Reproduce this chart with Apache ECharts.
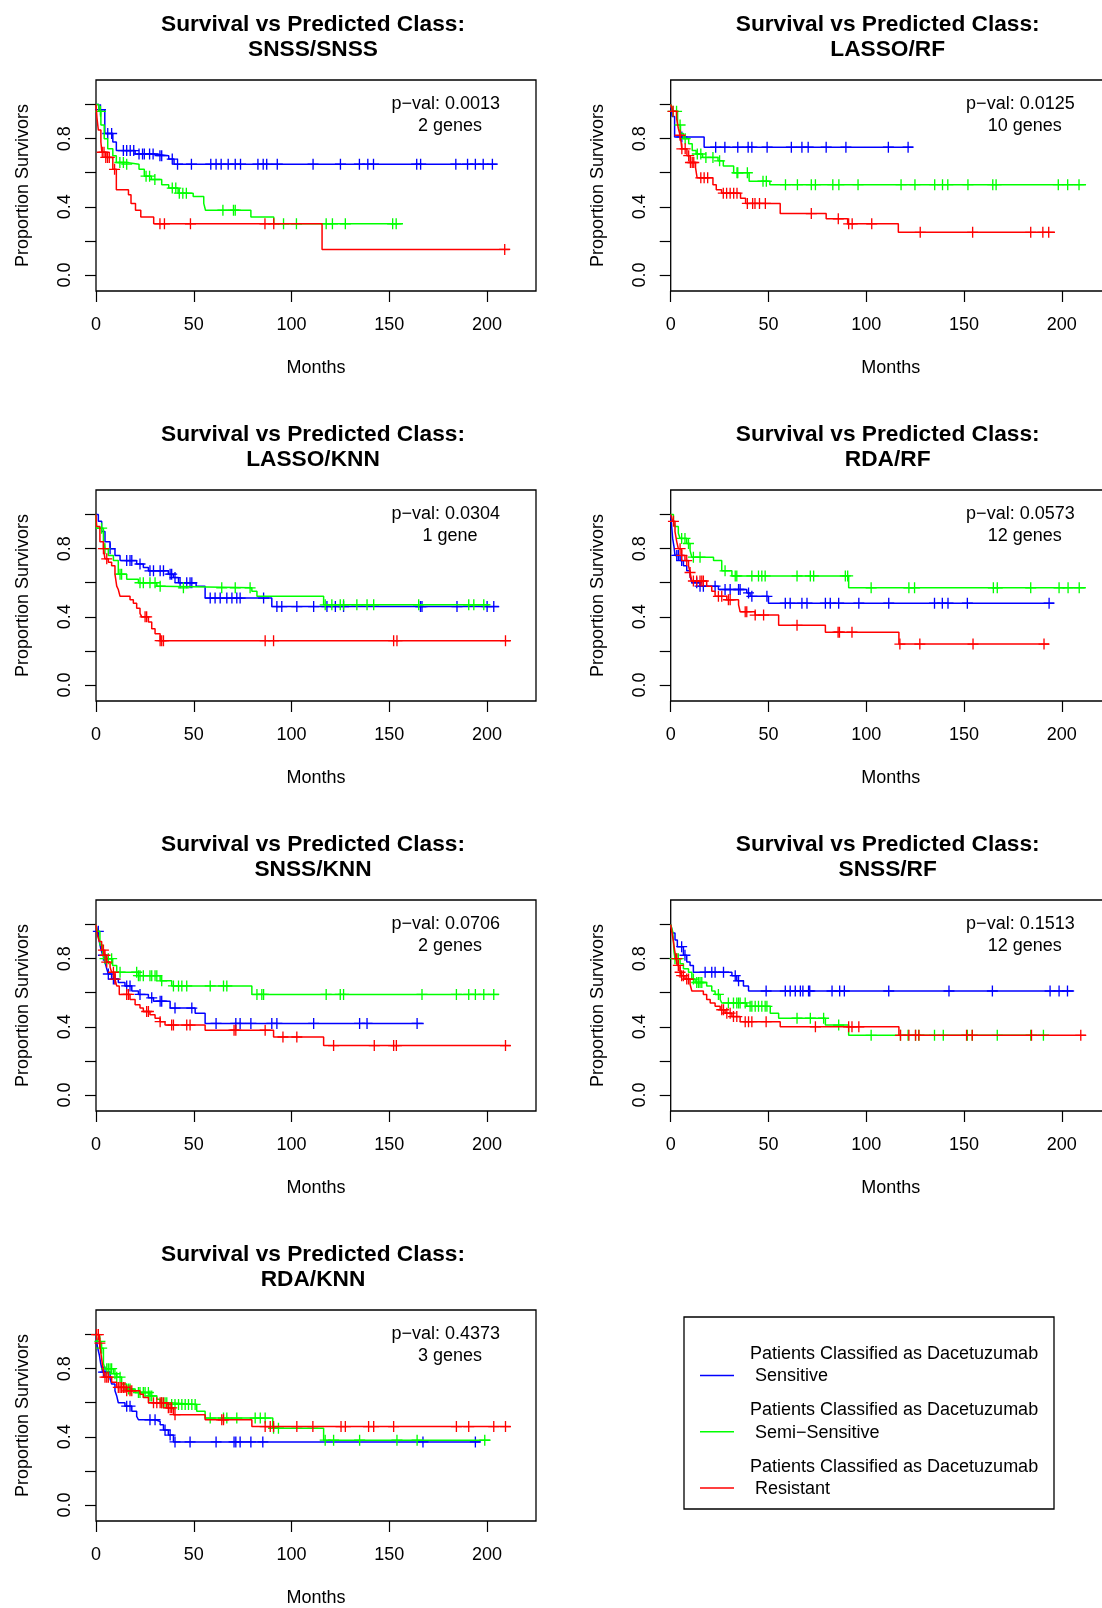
<!DOCTYPE html>
<html>
<head>
<meta charset="utf-8">
<script src="https://cdn.jsdelivr.net/npm/echarts@6.0.0/dist/echarts.min.js"></script>
<style>
  html, body { margin: 0; padding: 0; background: #ffffff; overflow: hidden; }
  #chart { width: 1102px; height: 1608px; }
</style>
</head>
<body>
<div id="chart"></div>
<script>
// ---------------- DATA ----------------
const panelNames = ['SNSS/SNSS', 'LASSO/RF', 'LASSO/KNN', 'RDA/RF', 'SNSS/KNN', 'SNSS/RF', 'RDA/KNN'];
const pValues = ['0.0013', '0.0125', '0.0304', '0.0573', '0.0706', '0.1513', '0.4373'];
const geneLabels = ['2 genes', '10 genes', '1 gene', '12 genes', '2 genes', '12 genes', '3 genes'];
const groupNames = ['Sensitive', 'Semi\u2212Sensitive', 'Resistant'];
const legendPrefix = 'Patients Classified as Dacetuzumab';
const xTicks = [0, 50, 100, 150, 200];
const yTicks = [0, 0.2, 0.4, 0.6, 0.8, 1.0];
const yTickLabels = [0, 0.4, 0.8];

// Panel 1: SNSS/SNSS  (step points [months, survival]; censor times in months)
const p1Sensitive = [[0,1],[1.5,0.97],[4.5,0.83],[8.6,0.78],[10.4,0.73],[20,0.71],[30,0.70],[37.2,0.68],[39.9,0.65],[205,0.65]];
const p1SensitiveCens = [2.3,6,8,14,15.7,17.5,19.3,22,23.8,24.7,27.4,29.2,32.7,33.6,39,41.7,48.8,58.7,61.4,64,67.6,71.2,73.9,82.8,85.5,87.3,92.7,111,125,134.7,139,141.9,164,166,184,190,194,198,202.7];
const p1Semi = [[0,1],[1.4,0.96],[2.5,0.88],[4.2,0.80],[6,0.74],[8.6,0.70],[10.4,0.66],[15.7,0.65],[22,0.62],[24.7,0.58],[28.3,0.56],[33.6,0.53],[37.2,0.51],[42,0.48],[49.7,0.46],[55.1,0.42],[56,0.38],[79.2,0.34],[90.9,0.30],[157,0.30]];
const p1SemiCens = [2.3,12.2,14,15.7,25.6,27.4,30.1,39,40.8,42.6,44.4,46.2,64.9,70.3,71.2,95.9,102.5,117.7,120.9,127.5,151.7,153.5];
const p1Resistant = [[0,1],[0.5,0.92],[1.2,0.85],[2.5,0.78],[3,0.72],[5,0.69],[8.6,0.62],[10.4,0.50],[16.6,0.47],[17.9,0.42],[20.2,0.38],[22.9,0.34],[29.5,0.30],[115.6,0.15],[211.6,0.15]];
const p1ResistantCens = [3.2,4.1,5,5.9,6.8,9.5,32.7,35,48.3,86.4,90.9,209];

// Panel 2: LASSO/RF
const p2Sensitive = [[0,1],[0.7,0.93],[2,0.81],[17.1,0.75],[124,0.75]];
const p2SensitiveCens = [5.7,23,27.7,34.3,39.6,41.5,49.3,61.7,67.1,70.3,79.5,89.6,111.3,121.4];
const p2Semi = [[0,1],[1,0.96],[3.5,0.88],[5,0.83],[6.5,0.80],[9.2,0.77],[11,0.73],[13,0.71],[16.3,0.69],[24.2,0.67],[26.9,0.64],[32.2,0.60],[40.1,0.55],[50.7,0.53],[212.4,0.53]];
const p2SemiCens = [1.2,3,4.8,7.4,13.6,15.4,18,21.6,25,33.9,34.3,39.2,47.2,48.9,58.7,64.8,71.9,74,82.9,86,95.8,117.8,124.9,135,139,141.7,152,164.7,166.4,198.2,203,208.8];
const p2Resistant = [[0,1],[1,0.96],[3,0.92],[3.9,0.86],[4.8,0.82],[5.3,0.78],[5.7,0.74],[8.3,0.70],[10,0.66],[12.7,0.63],[13.5,0.57],[21.6,0.53],[23.3,0.50],[26,0.48],[35.7,0.45],[38.3,0.42],[56,0.36],[79.5,0.33],[90.5,0.30],[116.4,0.25],[196.5,0.25]];
const p2ResistantCens = [1.2,4.8,5.7,7.4,9.2,10.1,11,11.8,15.4,17.1,18.9,26.9,28.6,30.4,32.2,33.9,39.2,41.9,43.1,45.4,48.4,71.9,85.7,91,92.8,102.8,127.6,154.4,184.1,190.3,193.3];

// Panel 3: LASSO/KNN
const p3Sensitive = [[0,1],[1.2,0.96],[2.9,0.90],[4.6,0.84],[7.2,0.80],[9.7,0.76],[12.3,0.73],[20.8,0.71],[24.2,0.69],[26.8,0.67],[37,0.65],[39.6,0.63],[42.2,0.60],[51.2,0.58],[55.8,0.51],[89.9,0.46],[206,0.46]];
const p3SensitiveCens = [7.2,15.7,17.4,18.3,22.5,27.6,29.4,32.8,34.5,37.9,38.7,40.4,43,46.4,48.1,49,58.4,60.9,63.5,66.9,69.5,72,73.7,85.7,92.5,95,102.7,111.3,118.1,122.4,126.6,165.9,166.7,184.6,200,203.4];
const p3Semi = [[0,1],[0.3,0.92],[3.8,0.84],[4.6,0.80],[6.3,0.76],[8.9,0.73],[11.4,0.65],[15.7,0.62],[21.7,0.60],[31.1,0.58],[33.6,0.57],[79.7,0.55],[82.3,0.52],[116.4,0.47],[201.7,0.47]];
const p3SemiCens = [2.9,4.6,12.3,13.1,22.5,24.2,27.6,30.2,32.8,44.7,64.3,71.2,78.8,117.2,120.6,124.9,126.6,133.4,138.6,142,165,190.6,193.2,198.3];
const p3Resistant = [[0,1],[0.3,0.93],[2,0.84],[3.8,0.80],[4.6,0.74],[6.3,0.72],[8,0.70],[9.7,0.65],[10.6,0.58],[11.4,0.56],[12.3,0.52],[17.4,0.50],[19.1,0.48],[20.8,0.45],[22.5,0.42],[23.4,0.40],[26.8,0.37],[28.5,0.33],[30.2,0.30],[32.8,0.26],[212,0.26]];
const p3ResistantCens = [3.8,5.5,25.1,25.9,32.8,33.6,34.5,86.5,90.8,152.2,153.9,209.4];

// Panel 4: RDA/RF
const p4Sensitive = [[0,1],[0.5,0.93],[1,0.86],[1.7,0.81],[2.2,0.76],[4.8,0.73],[6.5,0.70],[8.2,0.67],[9.9,0.64],[10.8,0.60],[15,0.58],[24.4,0.56],[38.9,0.54],[40.6,0.52],[50,0.48],[196,0.48]];
const p4SensitiveCens = [3.1,3.9,5.6,13.3,15,16.7,22.7,27.8,30.4,34.7,35.5,39.8,41.5,49.2,58.6,61.1,67.1,69.7,79.1,81.6,85.9,96.2,111.5,134.9,138.9,141.8,151.7,193.5];
const p4Semi = [[0,1],[1.4,0.96],[2.2,0.93],[3.9,0.89],[4.8,0.86],[8.2,0.83],[9.9,0.79],[10.8,0.75],[21.9,0.73],[26.1,0.67],[31.3,0.64],[91,0.57],[212.3,0.57]];
const p4SemiCens = [5.6,7.3,9.1,11.6,15,27.8,33,33.8,41.5,44.9,46.6,48.3,64.6,71.4,73.1,89.3,90.5,102.5,121.8,124.7,165,167,184.1,198.6,203.2,208.9];
const p4Resistant = [[0,1],[1,0.96],[2.2,0.90],[3.1,0.84],[3.9,0.80],[5.6,0.76],[7.3,0.73],[9.1,0.70],[9.9,0.66],[10.8,0.61],[18.4,0.58],[21,0.55],[22.7,0.52],[28.7,0.50],[34.7,0.47],[35.5,0.43],[43.2,0.41],[55.2,0.35],[79.1,0.31],[116.7,0.24],[193.5,0.24]];
const p4ResistantCens = [1.4,4.8,5.6,8.2,9.9,11.6,13.3,15,15.9,16.7,24.4,26.1,29.5,30.4,38.1,38.9,43.2,47.5,64.6,85.6,86.3,92.7,117.2,127.4,154.6,190.9];

// Panel 5: SNSS/KNN
const p5Sensitive = [[0,1],[0.7,0.96],[1.7,0.90],[2.4,0.86],[3.4,0.82],[4.6,0.78],[5.5,0.74],[6.3,0.71],[8,0.68],[11.4,0.66],[14.8,0.64],[18.3,0.61],[21.7,0.59],[26.8,0.57],[29.4,0.55],[37.9,0.51],[50.7,0.48],[55.8,0.42],[167.6,0.42]];
const p5SensitiveCens = [1.2,3.8,6.3,8.9,9.7,15.7,17.4,22.5,28.5,32.8,33.6,40.4,49,61.4,71.5,73.7,79.2,89.9,92.5,111.3,134.8,138.6,164.2];
const p5Semi = [[0,1],[0.7,0.96],[2,0.88],[3.4,0.82],[4.4,0.80],[8.5,0.76],[10.6,0.72],[21.7,0.70],[32.8,0.67],[38.7,0.64],[79.7,0.59],[206,0.59]];
const p5SemiCens = [4.6,6.3,8,12.3,20.8,21.7,22.5,24.2,27.6,28.5,30.2,31.1,33.6,39.6,42.2,43.9,46.4,58.4,65.2,66.9,82.3,84.8,85.7,117.7,124.9,126.6,166.7,184.3,190.6,194,198.3,203.4];
const p5Resistant = [[0,1],[0.7,0.94],[1.7,0.90],[2.9,0.85],[4.1,0.82],[5.5,0.78],[7.2,0.75],[8,0.72],[9.7,0.68],[10.6,0.64],[11.9,0.59],[17.4,0.56],[20,0.53],[22.5,0.51],[24.2,0.49],[27.6,0.47],[30.2,0.45],[32.8,0.43],[35.3,0.41],[55.8,0.38],[90.8,0.34],[116.4,0.29],[212,0.29]];
const p5ResistantCens = [3.8,4.6,5.5,8.9,9.7,15.7,16.6,25.9,26.8,32.8,38.7,39.6,46.4,48.1,70.6,71.5,86.5,95.6,102.7,121.5,142.3,152.2,153.6,209.4];

// Panel 6: SNSS/RF
const p6Sensitive = [[0,1],[1,0.95],[2.2,0.91],[3.4,0.87],[6.5,0.82],[8.2,0.78],[9.9,0.76],[11.6,0.72],[31.3,0.70],[33.8,0.67],[37.2,0.64],[39.8,0.61],[206.3,0.61]];
const p6SensitiveCens = [5.6,7.3,17.6,21,22.7,27,33,34.7,48.8,58.6,61.1,63.7,66.3,67.6,70.5,71.1,82.5,86.4,88.8,111.5,142.3,164.5,194,198.6,202.9];
const p6Semi = [[0,1],[1,0.96],[1.4,0.90],[1.7,0.84],[2.2,0.80],[4.8,0.77],[6.5,0.74],[9.1,0.72],[10.8,0.68],[12.5,0.66],[18.4,0.64],[21,0.61],[22.7,0.59],[25.3,0.56],[26.1,0.54],[38.9,0.52],[50.9,0.48],[55.2,0.45],[79.1,0.41],[91,0.35],[193.5,0.35]];
const p6SemiCens = [2.2,3.1,3.9,11.6,13.3,14.2,15,15.9,24.4,29.5,32.1,33.8,34.7,35.5,38.1,40.6,41.5,43.2,44.9,46.6,48.3,49.2,64.6,71.4,78.2,85.9,102.5,117.5,121.4,125.2,126.9,134.9,139.4,151.7,154.2,167,184.1,190.6];
const p6Resistant = [[0,1],[0.7,0.95],[1.4,0.90],[2,0.85],[2.7,0.80],[3.4,0.76],[4.8,0.72],[5.6,0.70],[7.3,0.68],[9.9,0.65],[10.8,0.61],[16.7,0.59],[18.4,0.56],[20.2,0.54],[22.7,0.52],[25.3,0.50],[27.8,0.48],[31.3,0.46],[35.5,0.43],[56,0.40],[116.7,0.35],[212.3,0.35]];
const p6ResistantCens = [3.1,3.9,4.8,5.6,6.5,8.2,9.1,26.1,27,28.7,30.4,32.1,33.8,38.1,39.8,41.5,48.8,74,91,92.7,96.2,117.5,121.8,125.2,126.9,151.3,154.2,184.5,209.7];

// Panel 7: RDA/KNN
const p7Sensitive = [[0,1],[0.7,0.93],[1.7,0.88],[2.4,0.83],[3.4,0.78],[7.2,0.74],[8,0.71],[9.7,0.67],[10.6,0.64],[11.4,0.60],[14.8,0.58],[18.3,0.55],[20.8,0.52],[21.7,0.50],[30.5,0.49],[32.8,0.47],[34.5,0.44],[37,0.41],[39.6,0.37],[196.6,0.37]];
const p7SensitiveCens = [3.8,4.6,15.7,17.4,27.6,30.2,35.3,37.9,40.4,48.1,61.4,70.6,71.5,73.7,79.2,85.3,167.2,194];
const p7Semi = [[0,1],[0.7,0.96],[2.5,0.92],[3.8,0.83],[4.6,0.80],[9,0.77],[10.6,0.75],[13.1,0.71],[15.7,0.68],[20,0.66],[27.6,0.64],[31.1,0.62],[32.8,0.60],[37.9,0.59],[51.5,0.55],[55.8,0.51],[90.4,0.45],[116.4,0.38],[201.7,0.38]];
const p7SemiCens = [2,2.9,5.5,6.3,7.2,8,9.7,10.6,12.3,16.6,17.4,21.7,22.5,24.2,25.1,26.8,27.6,28.5,33.6,35.3,36.2,38.7,40.4,42.2,43.9,45.6,47.3,49,50.7,58.4,65.2,66.9,72,81.4,84,86.5,90.8,93.3,117.2,121.5,134.8,153.9,164.2,198.8];
const p7Resistant = [[0,1],[1.7,0.95],[2.4,0.90],[3.1,0.84],[3.8,0.78],[4.4,0.75],[8,0.72],[10.6,0.69],[15.7,0.67],[22.5,0.65],[24.2,0.63],[26.8,0.60],[36.2,0.57],[39.6,0.53],[55.8,0.50],[79.7,0.46],[212,0.46]];
const p7ResistantCens = [0.3,1.2,2,4.6,5.5,6.3,11.4,12.3,13.1,14,14.8,15.7,17.4,18.3,29.4,31.1,32.8,33.6,34.5,37,37.9,38.7,40.4,64.3,65.2,86.5,89.1,90.8,102.7,110.9,125.3,127.5,139.4,142,152.2,184.3,190.6,203.4,209.4];

// ---------------- LAYOUT / STYLE ----------------
const FONT = 'Liberation Sans, Arial, Helvetica, sans-serif';
const groupColors = ['#0000FF', '#00FF00', '#FF0000'];
const colLeft = [96, 670.7];
const rowTop = [80, 490, 900, 1310];
const BOX_W = 440, BOX_H = 211;
const X_MAX = 225, Y_MIN = -0.094, Y_MAX = 1.144;
const PLUS = 'path://M0,4.4H10V5.6H0ZM4.4,0H5.6V10H4.4Z';

const panelCurves = [
  [p1Sensitive, p1Semi, p1Resistant], [p2Sensitive, p2Semi, p2Resistant],
  [p3Sensitive, p3Semi, p3Resistant], [p4Sensitive, p4Semi, p4Resistant],
  [p5Sensitive, p5Semi, p5Resistant], [p6Sensitive, p6Semi, p6Resistant],
  [p7Sensitive, p7Semi, p7Resistant]
];
const panelCensors = [
  [p1SensitiveCens, p1SemiCens, p1ResistantCens], [p2SensitiveCens, p2SemiCens, p2ResistantCens],
  [p3SensitiveCens, p3SemiCens, p3ResistantCens], [p4SensitiveCens, p4SemiCens, p4ResistantCens],
  [p5SensitiveCens, p5SemiCens, p5ResistantCens], [p6SensitiveCens, p6SemiCens, p6ResistantCens],
  [p7SensitiveCens, p7SemiCens, p7ResistantCens]
];

function survAt(steps, t) {
  let s = steps[0][1];
  for (const p of steps) { if (p[0] <= t) s = p[1]; else break; }
  return s;
}

const grids = [], xAxes = [], yAxes = [], series = [], graphics = [];
const txt = (x, y, text, opts) => Object.assign({
  type: 'text', x: x, y: y, silent: true,
  style: Object.assign({ text: text, fill: '#000', fontFamily: FONT, fontSize: 18, align: 'center', verticalAlign: 'middle' }, opts || {})
});

panelNames.forEach((name, i) => {
  const left = colLeft[i % 2], top = rowTop[Math.floor(i / 2)];
  grids.push({ left: left, top: top, width: BOX_W, height: BOX_H, show: true, borderColor: '#000', borderWidth: 1.3, backgroundColor: 'transparent', containLabel: false, outerBoundsMode: 'none' });
  xAxes.push({
    gridIndex: i, type: 'value', min: 0, max: X_MAX,
    axisLine: { show: false, onZero: false },
    axisTick: { show: true, length: 11, lineStyle: { color: '#000', width: 1.2 }, customValues: xTicks },
    axisLabel: { show: true, margin: 25, color: '#000', fontSize: 18, fontFamily: FONT, customValues: xTicks, formatter: v => String(v) },
    splitLine: { show: false },
    name: 'Months', nameLocation: 'middle', nameGap: 68,
    nameTextStyle: { color: '#000', fontSize: 18, fontFamily: FONT }
  });
  yAxes.push({
    gridIndex: i, type: 'value', min: Y_MIN, max: Y_MAX,
    axisLine: { show: false, onZero: false },
    axisTick: { show: true, length: 11, lineStyle: { color: '#000', width: 1.2 }, customValues: yTicks },
    axisLabel: { show: true, rotate: 90, margin: 22, color: '#000', fontSize: 18, fontFamily: FONT, customValues: yTickLabels, formatter: v => Number(v).toFixed(1) },
    splitLine: { show: false },
    name: 'Proportion Survivors', nameLocation: 'middle', nameGap: 64, nameRotate: 90,
    nameTextStyle: { color: '#000', fontSize: 18, fontFamily: FONT }
  });
  panelCurves[i].forEach((steps, g) => {
    series.push({
      type: 'line', name: groupNames[g], xAxisIndex: i, yAxisIndex: i, step: 'end',
      data: steps, showSymbol: false, symbol: 'none', silent: true, z: 2 + g,
      lineStyle: { color: groupColors[g], width: 1.5 }
    });
    series.push({
      type: 'scatter', name: groupNames[g] + ' censored', xAxisIndex: i, yAxisIndex: i,
      data: panelCensors[i][g].map(t => [t, survAt(steps, t)]),
      symbol: PLUS, symbolSize: 11, silent: true, z: 2 + g,
      itemStyle: { color: groupColors[g], opacity: 1 }
    });
  });
  const cx = left + BOX_W / 2 - 3;
  graphics.push(txt(cx, top - 55.5, 'Survival vs Predicted Class:', { fontSize: 22.7, fontWeight: 'bold' }));
  graphics.push(txt(cx, top - 29.8, name, { fontSize: 22.7, fontWeight: 'bold' }));
  graphics.push(txt(left + 404, top + 24.5, 'p\u2212val: ' + pValues[i], { align: 'right' }));
  graphics.push(txt(left + 354, top + 46, geneLabels[i]));
});

// Legend
graphics.push({ type: 'rect', silent: true, shape: { x: 684, y: 1317, width: 370, height: 192 }, style: { fill: 'transparent', stroke: '#000', lineWidth: 1.3 } });
groupNames.forEach((gname, g) => {
  const base = 1354 + g * 56.3;
  graphics.push({ type: 'line', silent: true, shape: { x1: 700, y1: base + 21.5, x2: 734, y2: base + 21.5 }, style: { stroke: groupColors[g], lineWidth: 1.5 } });
  graphics.push(txt(750, base, legendPrefix, { align: 'left' }));
  graphics.push(txt(750, base + 22.3, ' ' + gname, { align: 'left' }));
});

const chart = echarts.init(document.getElementById('chart'), null, { renderer: 'canvas' });
chart.setOption({
  animation: false,
  backgroundColor: '#ffffff',
  grid: grids, xAxis: xAxes, yAxis: yAxes, series: series,
  graphic: { elements: graphics }
});
</script>
</body>
</html>
